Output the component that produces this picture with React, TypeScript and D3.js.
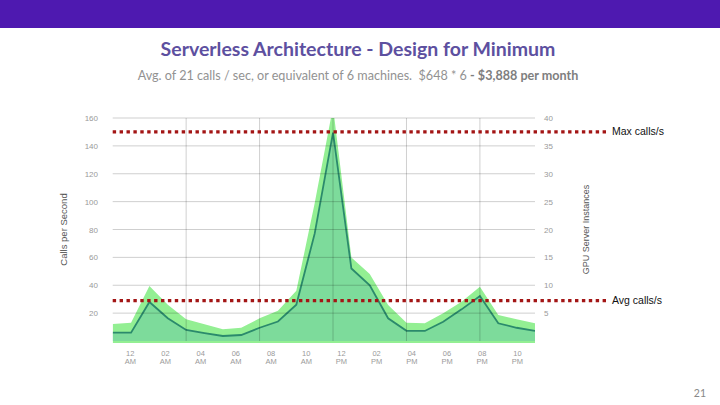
import React from 'react';
import * as d3 from 'd3';

// hourly points, left to right across the plot
const calls = [6, 6, 28, 16.3, 7.9, 5.7, 3.6, 4.3, 9.5, 14, 26, 77, 149.5, 52, 40, 16.3, 7.3, 7.2, 13.8, 22.7, 32.3, 12.7, 9.5, 7.2];
const capacity = [12.2, 13.1, 39.5, 26, 15.6, 12, 8.4, 9.5, 16.3, 21.7, 36, 98.8, 168, 60, 48, 25.8, 13.1, 12.7, 19.9, 28.2, 39, 18.7, 15.6, 12.7];
const hourLabels = ['12 AM', '02 AM', '04 AM', '06 AM', '08 AM', '10 AM', '12 PM', '02 PM', '04 PM', '06 PM', '08 PM', '10 PM'];
const leftTicks = [20, 40, 60, 80, 100, 120, 140, 160];
const rightTicks = [5, 10, 15, 20, 25, 30, 35, 40];
const gridIdx = [4, 8, 12, 16, 20];
const maxCalls = 150;
const avgCalls = 29;

const W = 720;
const H = 405;
const plot = { left: 112.7, right: 535, top: 118, bottom: 341 };

export default function App() {
  const x = d3.scaleLinear().domain([0, calls.length - 1]).range([plot.left, plot.right]);
  const xBand = d3.scaleBand<string>().domain(hourLabels).range([plot.left, plot.right]);
  const y = d3.scaleLinear().domain([0, 160]).range([plot.bottom, plot.top]);
  const yR = d3.scaleLinear().domain([0, 40]).range([plot.bottom, plot.top]);

  const lightArea = d3.area<number>()
    .x((_, i) => x(i))
    .y0(y(0) + 2)
    .y1(d => y(d));
  const callsArea = d3.area<number>()
    .x((_, i) => x(i))
    .y0(y(0))
    .y1(d => y(d));
  const callsLine = d3.line<number>()
    .x((_, i) => x(i))
    .y(d => y(d));

  const axisFont = '"Liberation Sans", Arial, sans-serif';

  return (
    <svg width={W} height={H} style={{ position: 'absolute', left: 0, top: 0, background: '#fff' }}>
      <defs>
        <clipPath id="plotClip">
          <rect x={plot.left} y={plot.top} width={plot.right - plot.left} height={plot.bottom - plot.top + 3} />
        </clipPath>
      </defs>

      {/* header */}
      <rect x={0} y={0} width={W} height={28} fill="#4e19b0" />
      <text x={358} y={56} textAnchor="middle" fontFamily="Lato, sans-serif" fontWeight={700} fontSize={19.5} fill="#5d50a0">
        Serverless Architecture - Design for Minimum
      </text>
      <text x={358} y={80} textAnchor="middle" fontFamily="Lato, sans-serif" fontSize={12.6} fill="#929292">
        Avg. of 21 calls / sec, or equivalent of 6 machines.{'\u00a0\u00a0'}$648 * 6{' '}
        <tspan fontWeight={700} fill="#7e7e7e">- $3,888 per month</tspan>
      </text>

      {/* series */}
      <g clipPath="url(#plotClip)">
        <path d={lightArea(capacity) ?? ''} fill="#93ef93" />
        <path d={callsArea(calls) ?? ''} fill="#7ddb9b" />
        <path d={callsLine(calls) ?? ''} fill="none" stroke="#2b8a6c" strokeWidth={1.8} />
      </g>

      {/* grid, drawn over the areas so it shows through them */}
      {leftTicks.map(t => (
        <line key={'h' + t} x1={plot.left} x2={plot.right} y1={y(t)} y2={y(t)} stroke="#000" strokeOpacity={0.19} strokeWidth={1} />
      ))}
      {gridIdx.map(i => (
        <line key={'v' + i} x1={x(i)} x2={x(i)} y1={plot.top} y2={plot.bottom} stroke="#000" strokeOpacity={0.19} strokeWidth={1} />
      ))}

      {/* reference lines */}
      <line x1={plot.left} x2={607} y1={y(maxCalls)} y2={y(maxCalls)} stroke="#a31515" strokeWidth={3.2} strokeDasharray="3.4 3.5" />
      <line x1={plot.left} x2={607} y1={y(avgCalls)} y2={y(avgCalls)} stroke="#a31515" strokeWidth={3.2} strokeDasharray="3.4 3.5" />
      <text x={612} y={y(maxCalls) + 3.5} fontFamily={axisFont} fontSize={10.5} fill="#111">Max calls/s</text>
      <text x={612} y={y(avgCalls) + 3} fontFamily={axisFont} fontSize={10.5} fill="#111">Avg calls/s</text>

      {/* left axis */}
      {leftTicks.map(t => (
        <text key={'l' + t} x={98} y={y(t) + 3} textAnchor="end" fontFamily={axisFont} fontSize={8} fill="#9a9a9a">{t}</text>
      ))}
      <text transform={`translate(67,${(plot.top + plot.bottom) / 2}) rotate(-90)`} textAnchor="middle" fontFamily={axisFont} fontSize={9.5} fill="#555">
        Calls per Second
      </text>

      {/* right axis */}
      {rightTicks.map(t => (
        <text key={'r' + t} x={544} y={yR(t) + 3} fontFamily={axisFont} fontSize={8} fill="#9a9a9a">{t}</text>
      ))}
      <text transform={`translate(589,${(plot.top + plot.bottom) / 2}) rotate(-90)`} textAnchor="middle" fontFamily={axisFont} fontSize={9} fill="#555">
        GPU Server Instances
      </text>

      {/* x axis */}
      {hourLabels.map(l => {
        const [num, ap] = l.split(' ');
        const cx = (xBand(l) ?? 0) + xBand.bandwidth() / 2;
        return (
          <text key={l} x={cx} textAnchor="middle" fontFamily={axisFont} fontSize={7.5} fill="#9a9a9a">
            <tspan x={cx} y={356}>{num}</tspan>
            <tspan x={cx} y={364}>{ap}</tspan>
          </text>
        );
      })}

      <text x={706} y={397} textAnchor="end" fontFamily="Lato, sans-serif" fontSize={10.5} fill="#888">21</text>
    </svg>
  );
}
